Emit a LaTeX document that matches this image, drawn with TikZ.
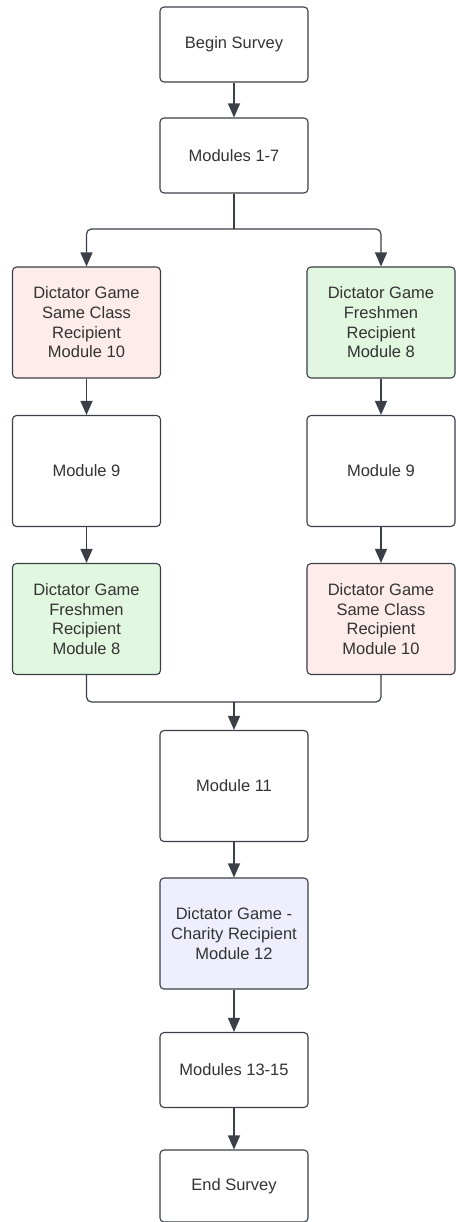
\documentclass[tikz,border=0pt]{standalone}
\usepackage{fontspec}
\setmainfont{Liberation Sans}
\usetikzlibrary{arrows.meta}
\definecolor{edge}{HTML}{3A3F48}
\definecolor{txt}{HTML}{333333}
\definecolor{pinkf}{HTML}{FDECEA}
\definecolor{greenf}{HTML}{E1F7E0}
\definecolor{lavf}{HTML}{EEEEFC}
\tikzset{
  box/.style={draw=edge, line width=1.1pt, rounded corners=4pt, fill=white,
    minimum width=148pt, align=center, text=txt, inner sep=2pt,
    font=\fontsize{16.5pt}{19.7pt}\selectfont},
  shortbox/.style={box, minimum height=75pt},
  tallbox/.style={box, minimum height=111pt},
  conn/.style={draw=edge, line width=1.2pt, -{Triangle[length=14pt,width=12pt]}},
  line/.style={draw=edge, line width=1.2pt},
}
\begin{document}
\begin{tikzpicture}[x=1pt,y=-1pt]
\useasboundingbox (0,0) rectangle (455,1222);
\node[shortbox] (begin) at (234,44.5) {Begin Survey};
\node[shortbox] (m17) at (234,155.5) {Modules 1-7};
\node[tallbox, fill=pinkf] (l1) at (86.5,322.5) {Dictator Game\\Same Class\\Recipient\\Module 10};
\node[tallbox] (l2) at (86.5,471) {Module 9};
\node[tallbox, fill=greenf] (l3) at (86.5,619) {Dictator Game\\Freshmen\\Recipient\\Module 8};
\node[tallbox, fill=greenf] (r1) at (381,322.5) {Dictator Game\\Freshmen\\Recipient\\Module 8};
\node[tallbox] (r2) at (381,471) {Module 9};
\node[tallbox, fill=pinkf] (r3) at (381,619) {Dictator Game\\Same Class\\Recipient\\Module 10};
\node[tallbox] (m11) at (234,786) {Module 11};
\node[tallbox, fill=lavf] (m12) at (234,933.5) {Dictator Game -\\Charity Recipient\\Module 12};
\node[shortbox] (m1315) at (234,1070) {Modules 13-15};
\node[box, minimum height=72pt] (end) at (234,1186) {End Survey};

\coordinate (split) at (234,229);
\coordinate (join) at (234,702);

\draw[conn] (begin) -- (m17);
\draw[line] (m17.south) -- (split);
\draw[conn, rounded corners=5pt] (split) -| (l1.north);
\draw[conn, rounded corners=5pt] (split) -| (r1.north);
\draw[conn] (l1) -- (l2);
\draw[conn] (l2) -- (l3);
\draw[conn] (r1) -- (r2);
\draw[conn] (r2) -- (r3);
\draw[line, rounded corners=5pt] (l3.south) |- (join);
\draw[line, rounded corners=5pt] (r3.south) |- (join);
\draw[conn] (join) -- (m11.north);
\draw[conn] (m11) -- (m12);
\draw[conn] (m12) -- (m1315);
\draw[conn] (m1315) -- (end);
\end{tikzpicture}
\end{document}
